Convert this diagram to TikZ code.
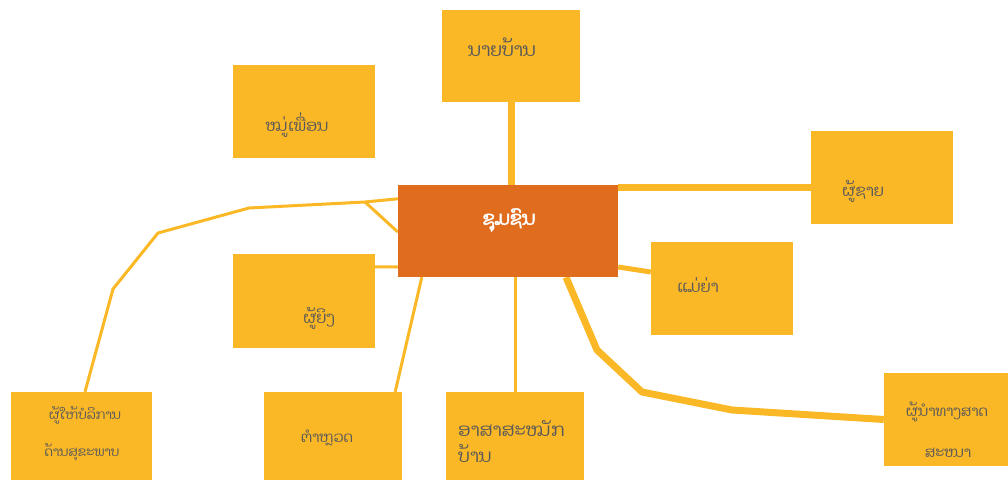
\documentclass[tikz,border=0pt]{standalone}
\usepackage{fontspec}
\newfontfamily\lao[Script=Lao]{Dhyana}
\newfontfamily\laobold[Script=Lao, FakeBold=2.5]{Dhyana}
\usetikzlibrary{calc,backgrounds}
\definecolor{boxy}{HTML}{FBB826}
\definecolor{ctr}{HTML}{E06C1E}
\definecolor{txt}{HTML}{595959}
\begin{document}
\begin{tikzpicture}[x=1pt,y=-1pt,
  box/.style={fill=boxy, draw=none, inner sep=0pt, rectangle},
  lbl/.style={text=txt, font=\lao\fontsize{16}{18}\selectfont, inner sep=0pt},
  conn/.style={draw=boxy, line width=#1, line join=round},
  conn/.default=3pt]
\useasboundingbox (0,0) rectangle (1008,481);
% boxes
\node[box, minimum width=142pt, minimum height=93pt] (friend) at (304,111.5) {};
\node[box, minimum width=138pt, minimum height=92pt] (chief) at (511,56) {};
\node[fill=ctr, inner sep=0pt, minimum width=220pt, minimum height=92pt] (c) at (508,231) {};
\node[box, minimum width=142pt, minimum height=93pt] (man) at (882,177.5) {};
\node[box, minimum width=142pt, minimum height=94pt] (woman) at (304,301) {};
\node[box, minimum width=142pt, minimum height=93pt] (gm) at (722,288.5) {};
\node[box, minimum width=124pt, minimum height=93pt] (rel) at (946,419.5) {};
\node[box, minimum width=141pt, minimum height=88pt] (health) at (81.5,436) {};
\node[box, minimum width=138pt, minimum height=88pt] (police) at (333,436) {};
\node[box, minimum width=138pt, minimum height=88pt] (vol) at (515,436) {};
% labels
\node[lbl] (tfriend) at (297,125) {ໝູ່ເພື່ອນ};
\node[lbl, font=\lao\fontsize{18.5}{20}\selectfont] (tchief) at (502,47) {ນາຍບ້ານ};
\node[text=white, inner sep=0pt, font=\laobold\fontsize{19}{21}\selectfont] (tc) at (509,220) {ຊຸມຊົນ};
\node[lbl] (tman) at (863,191) {ຜູ້ຊາຍ};
\node[lbl] (twoman) at (319,318) {ຜູ້ຍິງ};
\node[lbl] (tgm) at (698,285) {ແມ່ຍ່າ};
\node[lbl, font=\lao\fontsize{14.5}{16}\selectfont] (trel1) at (947,412) {ຜູ້ນຳທາງສາດ};
\node[lbl, font=\lao\fontsize{14.5}{16}\selectfont] (trel2) at (948,453) {ສະໜາ};
\node[lbl, font=\lao\fontsize{13}{15}\selectfont] (thealth1) at (85,415) {ຜູ້ໃຫ້ບໍລິການ};
\node[lbl, font=\lao\fontsize{13}{15}\selectfont] (thealth2) at (82,452) {ດ້ານສຸຂະພາບ};
\node[lbl, font=\lao\fontsize{14.5}{16}\selectfont] (tpolice) at (327,438) {ຕຳຫຼວດ};
\node[lbl, font=\lao\fontsize{18}{22}\selectfont, anchor=west] (tvol1) at (458,429) {ອາສາສະໝັກ};
\node[lbl, font=\lao\fontsize{18}{22}\selectfont, anchor=west] (tvol2) at (458,453) {ບ້ານ};
% connectors
\begin{scope}[on background layer]
\draw[conn=7pt] (chief.south) -- (chief.south |- c.north);
\draw[conn=7pt] ($(c.north east)+(0,3)$) -- ($(man.west |- c.north east)+(0,3)$);
\draw[conn=5pt] ($(c.east)+(0,36)$) -- ($(gm.west)+(0,-16.5)$);
\draw[conn=7pt] ($(c.south)+(58,0)$) -- (597,350) -- (642,392) -- (732,410) -- (rel.west);
\draw[conn] (vol.north |- c.south) -- (vol.north);
\draw[conn] ($(c.south west)+(24,0)$) -- ($(police.north east)+(-7,0)$);
\draw[conn] ($(woman.north east)+(0,13)$) -- ($(c.west)+(0,36)$);
\draw[conn] ($(c.north west)+(0,14)$) -- (365,202) coordinate (j) -- (249,208) -- (158,233) -- (113,289) -- ($(health.north)+(3.5,0)$);
\draw[conn] (j) -- ($(c.west)+(0,1)$);
\end{scope}
\end{tikzpicture}
\end{document}
